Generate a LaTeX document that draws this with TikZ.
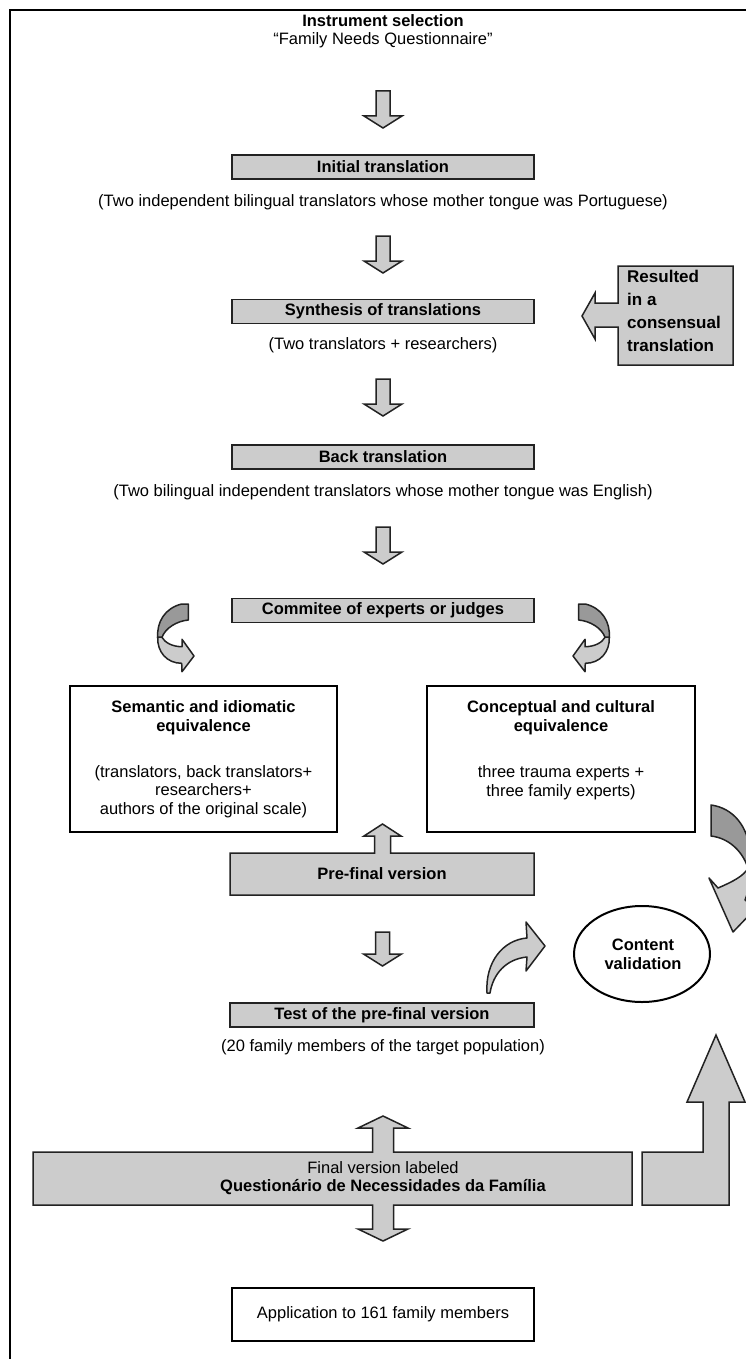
\documentclass[tikz,border=0pt]{standalone}
\usepackage{fontspec}
\setmainfont{Liberation Sans}
\usetikzlibrary{shapes.geometric}
\definecolor{boxgray}{HTML}{CCCCCC}
\definecolor{ribdark}{HTML}{999999}
\definecolor{edgec}{HTML}{222222}
\newcommand\diagfs{\fontsize{16.5}{18.7}\selectfont}
\tikzset{
  txt/.style={font=\diagfs, inner sep=0pt, align=center},
  btxt/.style={font=\diagfs\bfseries, inner sep=0pt, align=center},
  gbox/.style={draw=edgec, line width=1.5pt, fill=boxgray, inner sep=0pt, minimum height=24pt, minimum width=302pt, font=\diagfs\bfseries},
  wbox/.style={draw=black, line width=2pt, fill=white, inner sep=0pt},
  blk/.style={draw=edgec, line width=1.5pt, fill=boxgray, line join=miter},
  dk/.style={draw=edgec, line width=1.5pt, fill=ribdark, line join=round},
  lt/.style={draw=edgec, line width=1.5pt, fill=boxgray, line join=round},
}
\newcommand\blkdown[3]{\filldraw[blk] ({#1-7},#2) -- ({#1+7},#2) -- ({#1+7},{#3-12}) -- ({#1+19},{#3-12}) -- (#1,#3) -- ({#1-19},{#3-12}) -- ({#1-7},{#3-12}) -- cycle;}
\newcommand\curlshape{%
  \filldraw[dk] (24.7,0) -- (31.3,0) -- (31.3,16) .. controls (20,17) and (8,24) .. (4.7,34) -- (0.7,34) .. controls (-0.5,18) and (8,4) .. (24.7,0) -- cycle;
  \filldraw[lt] (0.7,33) .. controls (0,48) and (10,59.3) .. (24.7,59.3) -- (25,67.7) -- (37,52) -- (25,35.3) -- (25,42.7) .. controls (16,42.7) and (8,39) .. (4.7,33) -- cycle;}
\begin{document}
\begin{tikzpicture}[x=1pt,y=-1pt]
\useasboundingbox (0,0) rectangle (746,1359);
\clip (0,0) rectangle (746,1359);
\fill[white] (0,0) rectangle (746,1359);
% frame
\coordinate (fbl) at (10,1365);
\coordinate (ftl) at (10,10);
\coordinate (ftr) at (760,10);
\draw[line width=2.4pt, black] (fbl) -- (ftl) -- (ftr);

% title
\node[btxt] (t1) at (383,21) {Instrument selection};
\node[txt] (t2) at (383,40) {“Family Needs Questionnaire”};
\blkdown{383}{91}{128}

\node[gbox] (init) at (383,167) {Initial translation};
\node[txt] (initd) at (383,202) {(Two independent bilingual translators whose mother tongue was Portuguese)};
\blkdown{383}{236}{273}

\node[gbox] (synth) at (383,311.5) {Synthesis of translations};
\node[txt] (synthd) at (383,345) {(Two translators + researchers)};

% resulted callout
\filldraw[blk] (618,266) -- (733,266) -- (733,365) -- (618,365) -- (618,327) -- (595,327) -- (595,339) -- (582,316) -- (595,293) -- (595,303) -- (618,303) -- cycle;
\node[font=\fontsize{17}{23}\selectfont\bfseries, inner sep=0pt, align=left, anchor=west] (res) at (627,311) {Resulted\\in a\\consensual\\translation};

\blkdown{383}{379}{416}
\node[gbox] (back) at (383,457) {Back translation};
\node[txt] (backd) at (383,492) {(Two bilingual independent translators whose mother tongue was English)};
\blkdown{383}{527}{564}

\node[gbox] (comm) at (383,610.5) {Commitee of experts or judges};

% curls
\begin{scope}[shift={(157,604)}]
\curlshape
\end{scope}
\begin{scope}[shift={(610,604)}, xscale=-1]
\curlshape
\end{scope}

% equivalence boxes
\node[wbox, minimum width=267pt, minimum height=146pt] (sem) at (203.5,759) {};
\node[btxt] (semh) at (203.5,717.5) {Semantic and idiomatic\\equivalence};
\node[txt] (semb) at (203.5,791.5) {(translators, back translators+\\researchers+\\authors of the original scale)};
\node[wbox, minimum width=268pt, minimum height=146pt] (con) at (561,759) {};
\node[btxt] (conh) at (561,717.5) {Conceptual and cultural\\equivalence};
\node[txt] (conb) at (561,782.5) {three trauma experts +\\three family experts)};

% pre-final with up arrow
\filldraw[blk] (230,853) -- (374.5,853) -- (374.5,836) -- (364,836) -- (382.5,824) -- (401,836) -- (390.5,836) -- (390.5,853) -- (534,853) -- (534,895) -- (230,895) -- cycle;
\node[btxt] (pre) at (382,874) {Pre-final version};

\blkdown{382.5}{932}{966}
\node[gbox, minimum width=304pt] (test) at (382,1015) {Test of the pre-final version};
\node[txt] (testd) at (383,1047) {(20 family members of the target population)};

% curved arrow to content validation
\filldraw[lt] (487,993) .. controls (485,962) and (503,940) .. (527,938) -- (526,922) -- (545,946) -- (526,971) -- (527,957) .. controls (506,959) and (493,974) .. (490,993) -- cycle;

\node[ellipse, draw=black, line width=2pt, fill=white, minimum width=136pt, minimum height=96pt, inner sep=0pt] (cv) at (642,954) {};
\node[btxt] (cvt) at (643,954) {Content\\validation};

% right curved arrow from conceptual box
\filldraw[dk] (711,805) .. controls (733,808) and (748,826) .. (750,852) -- (748,868) .. controls (742,850) and (728,838) .. (711,836) -- cycle;
\filldraw[lt] (750,852) .. controls (752,872) and (750,888) .. (745,900) -- (756,908) -- (733,932) -- (709,878) -- (718,888) .. controls (732,882) and (744,876) .. (748,868) -- cycle;

% big arrow up
\filldraw[blk] (642,1152) -- (703,1152) -- (703,1102) -- (687,1102) -- (716,1035) -- (745,1102) -- (729,1102) -- (729,1205) -- (642,1205) -- cycle;

% final version with double arrow
\filldraw[blk] (33,1152) -- (372.5,1152) -- (372.5,1128) -- (358,1128) -- (383,1116) -- (408,1128) -- (393.5,1128) -- (393.5,1152) -- (632,1152) -- (632,1205) -- (393.5,1205) -- (393.5,1229) -- (408,1229) -- (383,1241) -- (358,1229) -- (372.5,1229) -- (372.5,1205) -- (33,1205) -- cycle;
\node[txt] (fin) at (383,1178) {Final version labeled\\\textbf{Questionário de Necessidades da Família}};

\node[wbox, txt, minimum width=302pt, minimum height=53pt] (app) at (383,1314.5) {Application to 161 family members};
\end{tikzpicture}
\end{document}
